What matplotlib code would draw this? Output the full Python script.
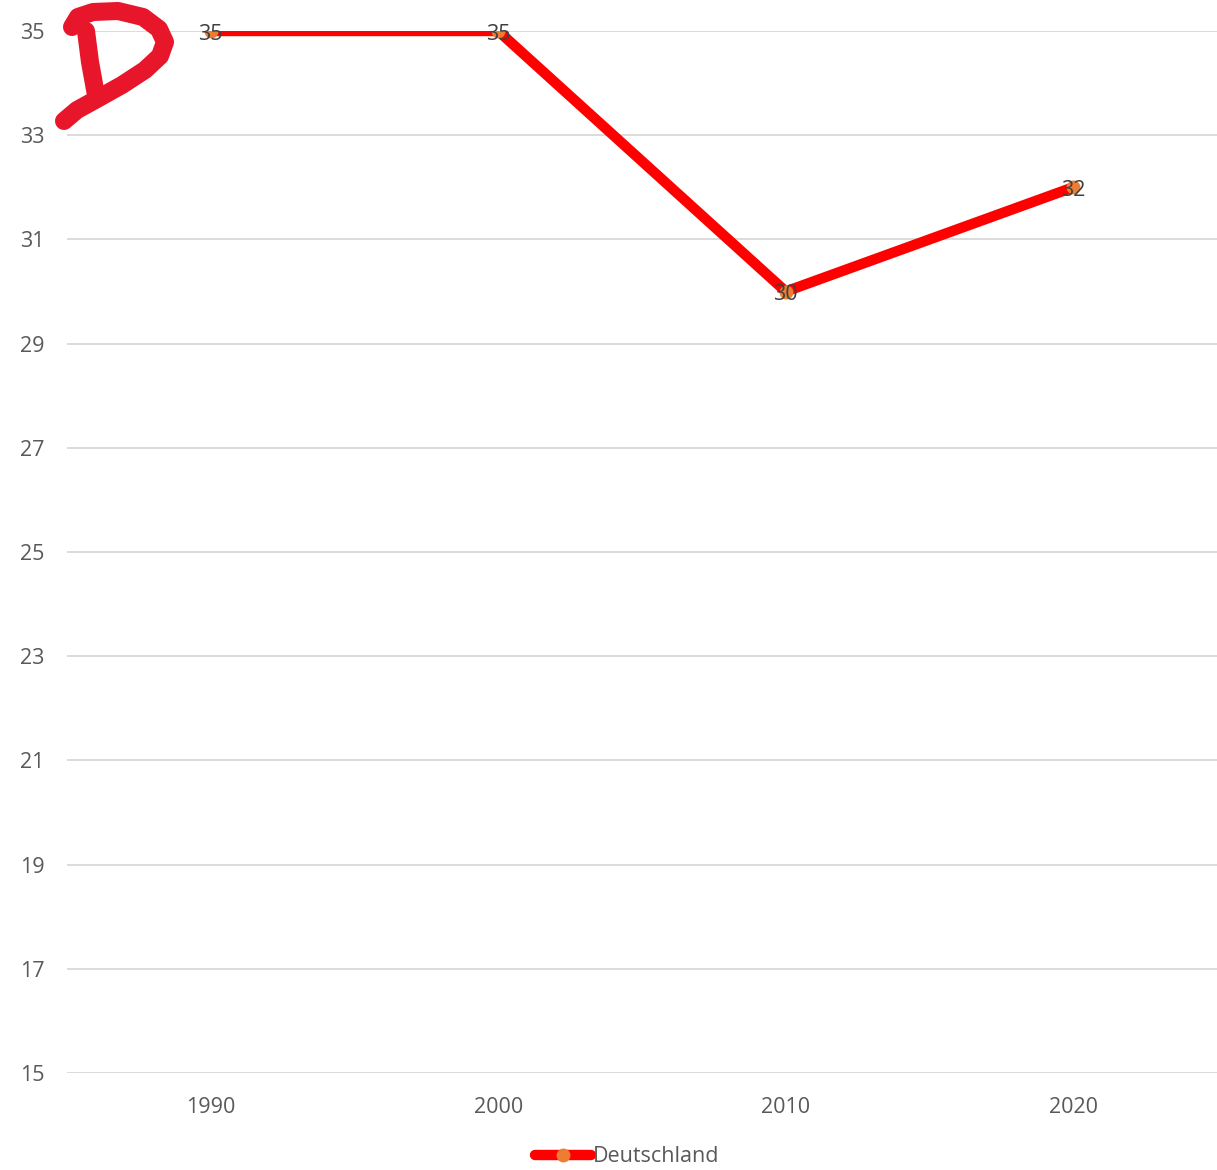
import matplotlib.pyplot as plt
import matplotlib.transforms as mtransforms
from matplotlib.lines import Line2D

# datos
anios = ["1990", "2000", "2010", "2020"]
valores = [35, 35, 30, 32]
serie = "Deutschland"
y_ticks = [15, 17, 19, 21, 23, 25, 27, 29, 31, 33, 35]

plt.rcParams['font.family'] = ['Open Sans', 'DejaVu Sans']

W, H = 1217, 1170
fig = plt.figure(figsize=(W / 100, H / 100), dpi=100)
ax = fig.add_axes([67 / W, 1 - 1073 / H, 1 - 67 / W, (1073 - 31) / H])

x = list(range(len(anios)))
ax.plot(x, valores, color="#FF0000", lw=7.5, solid_joinstyle="miter",
        solid_capstyle="round",
        marker="o", markersize=9, markerfacecolor="#ED7D31",
        markeredgecolor="#ED7D31", zorder=3, label=serie)

# etiquetas de datos (bajadas un poco para quedar centradas en el punto)
baja = mtransforms.ScaledTranslation(0, -3 / 100, fig.dpi_scale_trans)
for xi, v in zip(x, valores):
    ax.text(xi, v, str(v), ha="center", va="center", fontsize=15.5,
            color="#404040", zorder=4, transform=ax.transData + baja)

ax.set_xlim(-0.5, len(anios) - 0.5)
ax.set_ylim(15, 35)
ax.set_yticks(y_ticks)
ax.set_xticks(x)
ax.set_xticklabels(anios)
ax.grid(axis="y", color="#D9D9D9", lw=1.3)
ax.set_axisbelow(True)
for s in ax.spines.values():
    s.set_visible(False)
ax.tick_params(axis="both", length=0, labelsize=15.5, colors="#595959")
ax.tick_params(axis="y", pad=16)
ax.tick_params(axis="x", pad=17)

leg = fig.legend(loc="center", bbox_to_anchor=(627 / W, 1 - 1157 / H),
                 frameon=False, fontsize=15.5, handlelength=2.6,
                 handletextpad=0.1, labelcolor="#595959")

# logo "D" dibujado a mano
def px(pts):
    return [p[0] / W for p in pts], [1 - p[1] / H for p in pts]

contorno = [(72, 27), (78, 17), (93, 12), (118, 11), (143, 17), (159, 29),
            (165, 42), (160, 56), (145, 70), (122, 85), (97, 99),
            (77, 110), (64, 121)]
tallo = [(86, 31), (90, 62), (96, 95)]
for pts in (contorno, tallo):
    xs, ys = px(pts)
    fig.add_artist(Line2D(xs, ys, color="#E8162B", lw=13,
                          solid_capstyle="round", solid_joinstyle="round"))

fig.savefig("out.png", dpi=100)
